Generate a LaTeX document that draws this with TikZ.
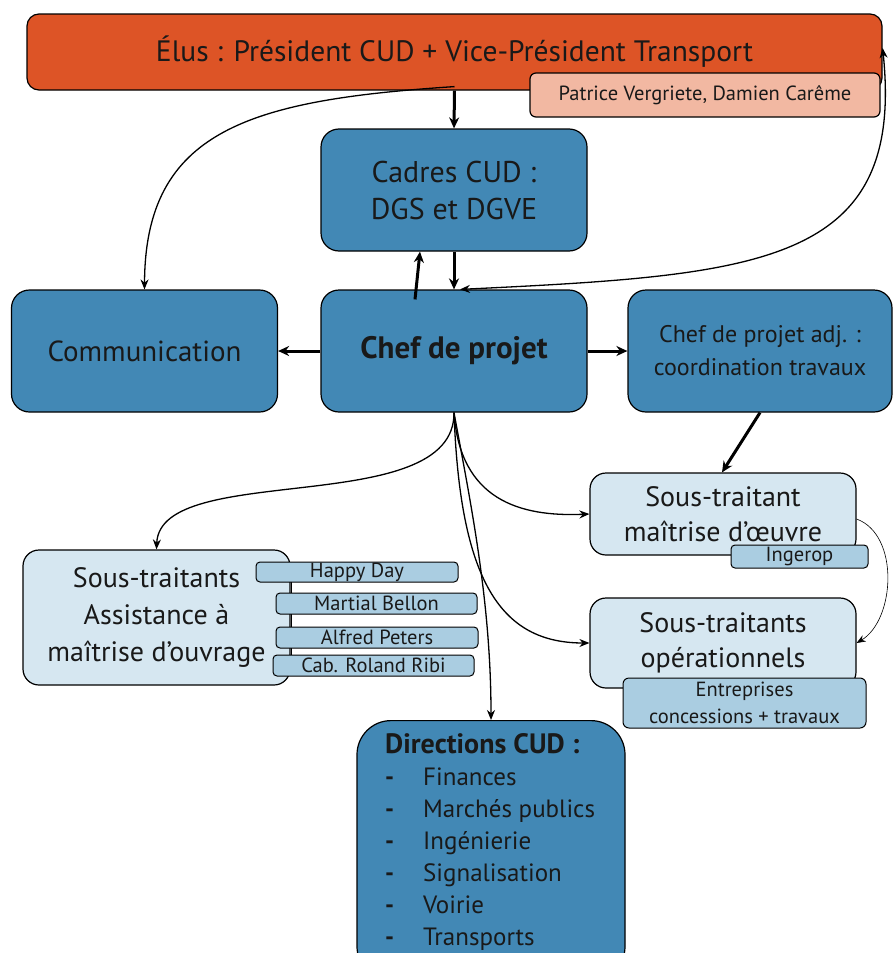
\documentclass[tikz,border=0pt]{standalone}
\usepackage{fontspec}
\setmainfont{PT Sans}
\usepackage{xcolor}
\usepackage{tikz}
\usetikzlibrary{arrows.meta,positioning}

\definecolor{elusred}{RGB}{221,84,38}
\definecolor{eluspink}{RGB}{242,184,162}
\definecolor{cudblue}{RGB}{66,136,181}
\definecolor{lightblue}{RGB}{214,231,241}
\definecolor{tagblue}{RGB}{170,205,225}
\definecolor{txt}{RGB}{25,25,25}

\begin{document}
\begin{tikzpicture}
	[x=1pt,y=-1pt,
	bigbox/.style={draw=black,line width=1.2pt,fill=cudblue,rounded corners=18pt,
		minimum width=266pt,minimum height=122pt,align=center,text=txt,
		font=\fontsize{29}{35}\selectfont},
	subbox/.style={draw=black,line width=1.2pt,fill=lightblue,rounded corners=16pt,
		minimum width=266pt,align=center,text=txt,font=\fontsize{28}{35}\selectfont},
	tag/.style={draw=black,line width=1pt,fill=tagblue,rounded corners=4pt,
		inner sep=0pt,align=center,text=txt,font=\fontsize{20.5}{27}\selectfont},
	fat/.style={-{Stealth[length=11pt,width=10pt]},line width=3pt},
	thin/.style={-{Stealth[length=10pt,width=8pt]},line width=1.3pt}]
	\useasboundingbox (0,0) rectangle (893,953);
	% elus
	\node[draw=black,line width=1.2pt,fill=elusred,rounded corners=12pt,
		minimum width=855pt,minimum height=76pt,text=txt,
		font=\fontsize{29.5}{34}\selectfont] (elus) at (454.5,52)
		{Élus : Président CUD + Vice-Président Transport};
	\node[draw=black,line width=1.2pt,fill=eluspink,rounded corners=6pt,
		minimum width=350pt,minimum height=44pt,text=txt,
		font=\fontsize{20.5}{24}\selectfont] (noms) at (705,95)
		{Patrice Vergriete, Damien Carême};
	% blue boxes
	\node[bigbox,font=\fontsize{30}{37}\selectfont] (cadres) at (454,190) {Cadres CUD :\\DGS et DGVE};
	\node[bigbox] (comm) at (144.5,351) {Communication};
	\node[bigbox,font=\fontsize{31}{35}\selectfont\bfseries] (chef) at (454,351) {Chef de projet};
	\node[bigbox,minimum width=264pt,font=\fontsize{24}{33}\selectfont] (adj) at (760,351)
		{Chef de projet adj. :\\coordination travaux};
	% sous-traitants
	\node[subbox,minimum height=82pt] (moe) at (723,514) {Sous-traitant\\maîtrise d’œuvre};
	\node[tag,minimum width=137pt,minimum height=23pt] (ingerop) at (799.5,556.5) {Ingerop};
	\node[subbox,minimum height=90pt] (oper) at (723,643) {Sous-traitants\\opérationnels};
	\node[tag,minimum width=243pt,minimum height=50pt,rounded corners=6pt] (entr) at (744.5,703)
		{Entreprises\\concessions + travaux};
	\node[subbox,minimum width=267pt,minimum height=135pt,font=\fontsize{28}{37}\selectfont] (amo) at (156.5,617.5)
		{Sous-traitants\\Assistance à\\maîtrise d’ouvrage};
	\draw[line width=1pt] (291,582) -- (291,655);
	\node[tag,minimum width=202pt,minimum height=20pt] (happy) at (357,572) {Happy Day};
	\node[tag,minimum width=201pt,minimum height=21pt] (bellon) at (376.5,603.5) {Martial Bellon};
	\node[tag,minimum width=202pt,minimum height=21pt] (peters) at (377,637.5) {Alfred Peters};
	\node[tag,minimum width=201pt,minimum height=21pt] (ribi) at (373.5,665.5) {Cab. Roland Ribi};
	% directions
	\node[bigbox,rounded corners=34pt,minimum width=268pt,minimum height=260pt,
		anchor=north,inner sep=0pt] (dir) at (491,720) {};
	\node[anchor=north west,text=txt,font=\fontsize{25}{32}\selectfont,inner sep=0pt] (dirtxt) at (385,731)
		{\begin{tabular}{@{}p{38pt}@{}l@{}}
			\multicolumn{2}{@{}l}{\fontsize{28}{32}\selectfont\bfseries Directions CUD :}\\
			\bfseries - & Finances\\
			\bfseries - & Marchés publics\\
			\bfseries - & Ingénierie\\
			\bfseries - & Signalisation\\
			\bfseries - & Voirie\\
			\bfseries - & Transports
		\end{tabular}};
	% connectors
	\draw[fat] (elus.south) -- (cadres.north);
	\draw[fat] (cadres.south) -- (chef.north);
	\draw[fat] ([xshift=-39pt]chef.north) ++(0,10) -- ([xshift=-34pt]cadres.south);
	\draw[fat] (chef.west) -- (comm.east);
	\draw[fat] (chef.east) -- (adj.east -| adj.west);
	\draw[fat] ([xshift=0pt]adj.south) -- ([xshift=-1pt]moe.north);
	\draw[thin] ([yshift=4pt]elus.south) .. controls (250,100) and (145,130) .. (comm.north);
	\draw[thin,{Stealth[length=10pt,width=8pt]}-{Stealth[length=10pt,width=8pt]}]
		([xshift=6pt]chef.north) .. controls (760,275) and (905,265) .. ([yshift=4pt]elus.east);
	\draw[thin] (chef.south) .. controls (455,520) and (160,460) .. (amo.north);
	\draw[thin] (chef.south) .. controls (460,500) and (520,517) .. (moe.west);
	\draw[thin] (chef.south) .. controls (460,580) and (500,643) .. (oper.west);
	\draw[thin] (chef.south) .. controls (470,500) and (491,600) .. (dir.north);
	\draw[-{Stealth[length=9pt,width=7pt]},line width=0.6pt] ([yshift=-5pt]moe.east)
		.. controls (900,535) and (895,620) .. (oper.east);
\end{tikzpicture}
\end{document}
